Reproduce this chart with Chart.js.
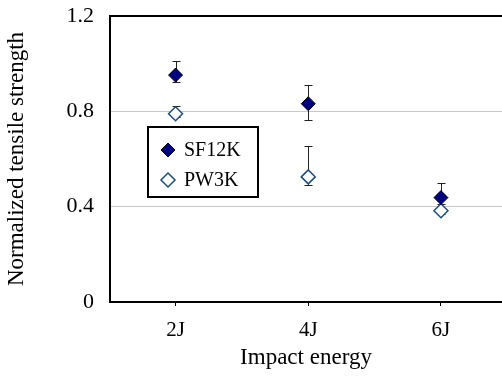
<!DOCTYPE html>
<html>
<head>
<meta charset="UTF-8">
<style>
  html, body { margin: 0; padding: 0; background: #fff; }
  #wrap { position: relative; width: 502px; height: 376px; }
</style>
</head>
<body>
<div id="wrap"><canvas id="myChart" width="502" height="376"></canvas></div>
<script src="https://cdn.jsdelivr.net/npm/chart.js"></script>
<script>
// data
const categorias = ['2J', '4J', '6J'];
const posicoes = [1, 2, 3];
const sf12k = [0.952, 0.832, 0.438];
const sf12kMin = [0.921, 0.764, 0.41];
const sf12kMax = [1.012, 0.909, 0.498];
const pw3k = [0.79, 0.525, 0.383];
const pw3kMin = [0.775, 0.49, 0.37];
const pw3kMax = [0.824, 0.656, 0.395];
const yTicks = [0, 0.4, 0.8, 1.2];

const fonte = '"Liberation Serif", "Times New Roman", serif';

// barras de erro
const errosPlugin = {
  id: 'erros',
  beforeDatasetsDraw(chart) {
    const ctx = chart.ctx;
    const x = chart.scales.x, y = chart.scales.y;
    const series = [[sf12kMin, sf12kMax], [pw3kMin, pw3kMax]];
    ctx.save();
    ctx.strokeStyle = '#222';
    ctx.lineWidth = 1;
    series.forEach(s => {
      posicoes.forEach((p, i) => {
        const px = Math.round(x.getPixelForValue(p)) + 0.5;
        const y1 = Math.round(y.getPixelForValue(s[0][i])) + 0.5;
        const y2 = Math.round(y.getPixelForValue(s[1][i])) + 0.5;
        ctx.beginPath();
        ctx.moveTo(px, y1); ctx.lineTo(px, y2);
        ctx.moveTo(px - 4, y1); ctx.lineTo(px + 4, y1);
        ctx.moveTo(px - 4, y2); ctx.lineTo(px + 4, y2);
        ctx.stroke();
      });
    });
    ctx.restore();
  }
};

// legenda dentro do grafico
const legendaPlugin = {
  id: 'legendaBox',
  afterDraw(chart) {
    const ctx = chart.ctx;
    ctx.save();
    ctx.fillStyle = '#fff';
    ctx.fillRect(148, 127, 110, 70);
    ctx.strokeStyle = '#000';
    ctx.lineWidth = 2;
    ctx.strokeRect(148, 127, 110, 70);
    ctx.font = '20px ' + fonte;
    ctx.textBaseline = 'middle';
    chart.data.datasets.forEach((ds, i) => {
      const yy = 150 + i * 30;
      ctx.fillStyle = ds.backgroundColor;
      ctx.strokeStyle = ds.borderColor;
      ctx.lineWidth = ds.borderWidth;
      ctx.beginPath();
      ctx.moveTo(168, yy - 7); ctx.lineTo(175, yy); ctx.lineTo(168, yy + 7); ctx.lineTo(161, yy);
      ctx.closePath();
      ctx.fill(); ctx.stroke();
      ctx.fillStyle = '#000';
      ctx.fillText(ds.label, 184, yy + 1);
    });
    ctx.restore();
  }
};

new Chart(document.getElementById('myChart'), {
  type: 'scatter',
  data: {
    datasets: [{
      label: 'SF12K',
      data: posicoes.map((p, i) => ({ x: p, y: sf12k[i] })),
      pointStyle: 'rectRot',
      pointRadius: 7,
      backgroundColor: '#000080',
      borderColor: '#000',
      borderWidth: 1
    }, {
      label: 'PW3K',
      data: posicoes.map((p, i) => ({ x: p, y: pw3k[i] })),
      pointStyle: 'rectRot',
      pointRadius: 7,
      backgroundColor: '#fff',
      borderColor: '#1f4e79',
      borderWidth: 1.5
    }]
  },
  options: {
    responsive: false,
    animation: false,
    layout: { autoPadding: false, padding: { top: 16, right: 0, left: 0, bottom: 0 } },
    plugins: { legend: { display: false }, tooltip: { enabled: false } },
    scales: {
      x: {
        type: 'linear',
        min: 0.506,
        max: 3.46,
        afterBuildTicks(axis) { axis.ticks = posicoes.map(v => ({ value: v })); },
        afterFit(axis) {
          axis.height = 74;
          axis.paddingLeft = 0;
          axis.paddingRight = 0;
        },
        border: { color: '#000', width: 2 },
        grid: { drawOnChartArea: false, drawTicks: true, tickLength: 4, color: '#000' },
        ticks: {
          callback: (v) => categorias[posicoes.indexOf(v)],
          color: '#000',
          font: { family: fonte, size: 21 },
          padding: 12,
          maxRotation: 0
        },
        title: {
          display: true,
          text: 'Impact energy',
          color: '#000',
          font: { family: fonte, size: 23 },
          padding: { top: 3 }
        }
      },
      y: {
        min: 0,
        max: 1.2,
        afterBuildTicks(axis) { axis.ticks = yTicks.map(v => ({ value: v })); },
        afterFit(axis) {
          axis.width = 110;
          axis.paddingTop = 0;
          axis.paddingBottom = 0;
        },
        border: { color: '#000', width: 2 },
        grid: {
          drawTicks: false,
          color: (c) => c.tick && c.tick.value === 1.2 ? '#000' : '#c8c8c8',
          lineWidth: (c) => c.tick && c.tick.value === 1.2 ? 2 : 1
        },
        ticks: {
          callback: (v) => String(v),
          color: '#000',
          font: { family: fonte, size: 22 },
          padding: 16
        },
        title: {
          display: true,
          text: 'Normalized tensile strength',
          color: '#000',
          font: { family: fonte, size: 23 },
          padding: { top: 3, bottom: 4 }
        }
      }
    }
  },
  plugins: [errosPlugin, legendaPlugin]
});
</script>
</body>
</html>
